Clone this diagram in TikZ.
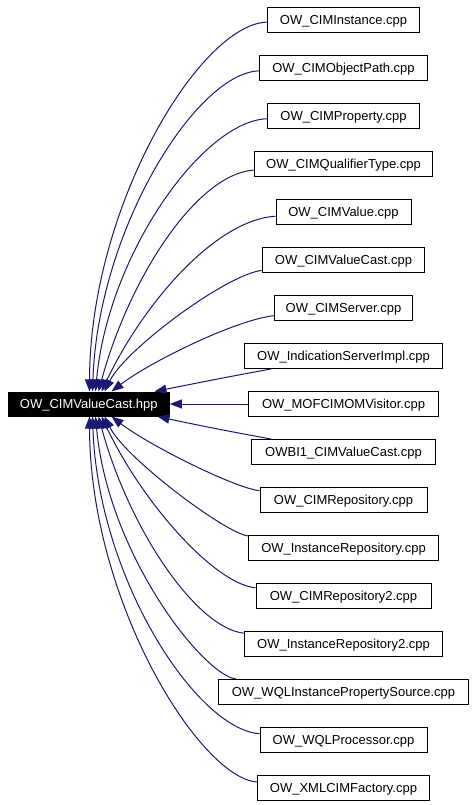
\documentclass[tikz,border=0pt]{standalone}
\usepackage{fontspec}
\setmainfont{Liberation Sans}
\usetikzlibrary{arrows.meta,calc}
\definecolor{edgeblue}{RGB}{25,25,112}
\begin{document}
\begin{tikzpicture}[x=1pt,y=-1pt,
  filebox/.style={draw=black,line width=1pt,fill=white,minimum height=25pt,inner sep=0pt,
    text height=9.5pt,text depth=0pt,font=\fontsize{13}{15}\selectfont},
  mainbox/.style={draw=black,fill=black,text=white,line width=1pt,minimum width=161pt,
    minimum height=24pt,inner sep=0pt,text height=9.5pt,text depth=0pt,font=\fontsize{13}{15}\selectfont},
  edge/.style={draw=edgeblue,line width=1pt,-{Triangle[length=12pt,width=9pt]}}
]
\useasboundingbox (0,0) rectangle (475,805);

\node[mainbox] (m) at (88.8,404) {OW\_CIMValueCast.hpp};

\node[filebox,minimum width=152pt] (b0)  at (343.5,20)  {OW\_CIMInstance.cpp};
\node[filebox,minimum width=168pt] (b1)  at (343.5,68)  {OW\_CIMObjectPath.cpp};
\node[filebox,minimum width=152pt] (b2)  at (343.5,116) {OW\_CIMProperty.cpp};
\node[filebox,minimum width=178pt] (b3)  at (343.5,164) {OW\_CIMQualifierType.cpp};
\node[filebox,minimum width=135pt] (b4)  at (343.5,212) {OW\_CIMValue.cpp};
\node[filebox,minimum width=162pt] (b5)  at (343.5,260) {OW\_CIMValueCast.cpp};
\node[filebox,minimum width=138pt] (b6)  at (343.5,308) {OW\_CIMServer.cpp};
\node[filebox,minimum width=198pt] (b7)  at (343.5,356) {OW\_IndicationServerImpl.cpp};
\node[filebox,minimum width=190pt] (b8)  at (343.5,404) {OW\_MOFCIMOMVisitor.cpp};
\node[filebox,minimum width=184pt] (b9)  at (343.5,452) {OWBI1\_CIMValueCast.cpp};
\node[filebox,minimum width=167pt] (b10) at (343.5,500) {OW\_CIMRepository.cpp};
\node[filebox,minimum width=190pt] (b11) at (343.5,548) {OW\_InstanceRepository.cpp};
\node[filebox,minimum width=175pt] (b12) at (343.5,596) {OW\_CIMRepository2.cpp};
\node[filebox,minimum width=198pt] (b13) at (343.5,644) {OW\_InstanceRepository2.cpp};
\node[filebox,minimum width=250pt] (b14) at (343.5,692) {OW\_WQLInstancePropertySource.cpp};
\node[filebox,minimum width=167pt] (b15) at (343.5,740) {OW\_WQLProcessor.cpp};
\node[filebox,minimum width=172pt] (b16) at (343.5,788) {OW\_XMLCIMFactory.cpp};

% arrow tips on the main node
\coordinate (t0)  at ($(m.north west)+(81.7,0)$);
\coordinate (t1)  at ($(m.north west)+(84.7,0)$);
\coordinate (t2)  at ($(m.north west)+(87.7,0)$);
\coordinate (t3)  at ($(m.north west)+(90.7,0)$);
\coordinate (t4)  at ($(m.north west)+(93.7,0)$);
\coordinate (t5)  at ($(m.north west)+(96.7,0)$);
\coordinate (t6)  at ($(m.north west)+(103.7,0)$);
\coordinate (t7)  at ($(m.north west)+(146.7,0)$);
\coordinate (t9)  at ($(m.south west)+(149.7,0)$);
\coordinate (t10) at ($(m.south west)+(103.7,0)$);
\coordinate (t11) at ($(m.south west)+(96.7,0)$);
\coordinate (t12) at ($(m.south west)+(93.7,0)$);
\coordinate (t13) at ($(m.south west)+(90.7,0)$);
\coordinate (t14) at ($(m.south west)+(87.7,0)$);
\coordinate (t15) at ($(m.south west)+(84.7,0)$);
\coordinate (t16) at ($(m.south west)+(81.7,0)$);

\draw[edge] (b0)  .. controls (200,24)  and (90,206)  .. (t0);
\draw[edge] (b1)  .. controls (196,73)  and (98,230)  .. (t1);
\draw[edge] (b2)  .. controls (203,121) and (108,254) .. (t2);
\draw[edge] (b3)  .. controls (196,174) and (129,279) .. (t3);
\draw[edge] (b4)  .. controls (215,220) and (143,304) .. (t4);
\draw[edge] (b5)  .. controls (225,275) and (125,350) .. (t5);
\draw[edge] (b6)  .. controls (235,320) and (150,362) .. (t6);
\draw[edge] (b7)  .. controls (232,376) and (192,384) .. (t7);
\draw[edge] (b8)  -- (m);
\draw[edge] (b9)  .. controls (232,432) and (192,424) .. (t9);
\draw[edge] (b10) .. controls (235,488) and (150,446) .. (t10);
\draw[edge] (b11) .. controls (225,533) and (125,458) .. (t11);
\draw[edge] (b12) .. controls (215,584) and (143,504) .. (t12);
\draw[edge] (b13) .. controls (196,628) and (129,529) .. (t13);
\draw[edge] (b14) .. controls (203,675) and (108,554) .. (t14);
\draw[edge] (b15) .. controls (196,729) and (98,578)  .. (t15);
\draw[edge] (b16) .. controls (200,778) and (90,602)  .. (t16);
\end{tikzpicture}
\end{document}
